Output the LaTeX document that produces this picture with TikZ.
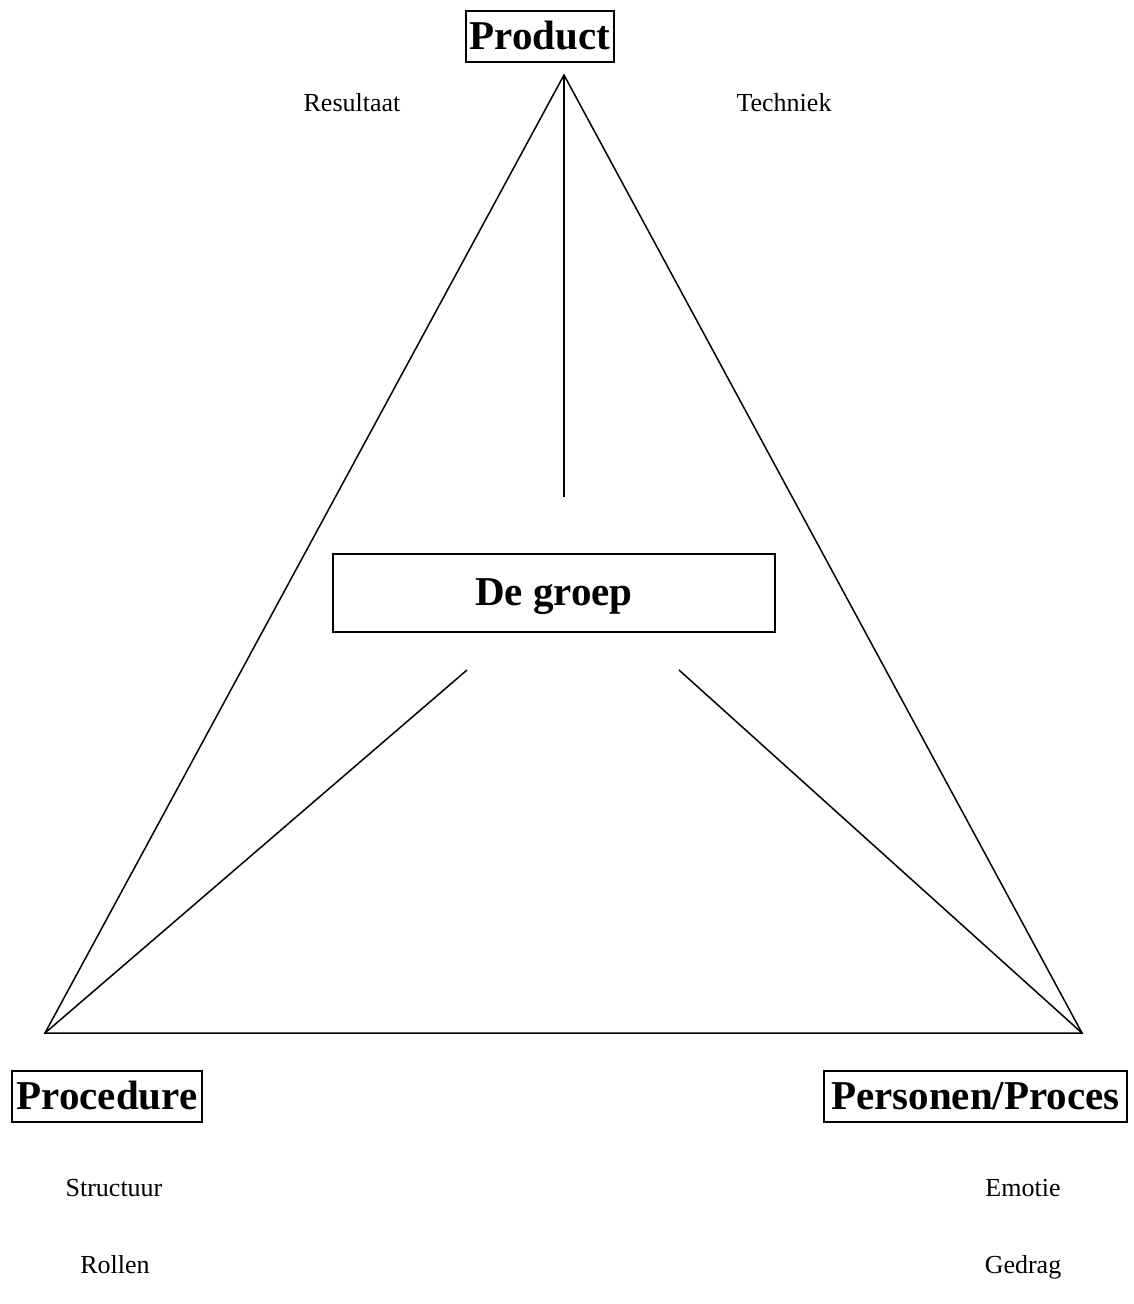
\documentclass[tikz,border=0pt]{standalone}
\usepackage{fontspec}
\setmainfont{Liberation Serif}
\tikzset{
  pole/.style={draw, line width=2pt, inner sep=0pt, minimum height=51pt,
    font=\fontsize{41}{48}\selectfont\bfseries},
  aspect/.style={inner sep=0pt, text depth=0pt, font=\fontsize{26}{30}\selectfont},
  edge/.style={line width=1.5pt}
}
\begin{document}
\begin{tikzpicture}[x=1pt,y=-1pt]
\useasboundingbox (0,0) rectangle (1134,1304);
% the three poles

  \node[pole, minimum width=148pt] (product) at (540,36) {Product};
  \node[pole, minimum width=190pt] (procedure) at (107,1096) {Procedure};
  \node[pole, minimum width=303pt] (personen) at (975.5,1096) {Personen/Proces};
  \node[pole, minimum width=442pt, minimum height=78pt, text height=27pt, text depth=3pt] (groep) at (554,593) {De groep};

  \node[aspect] (resultaat) at (352,102) {Resultaat};
  \node[aspect] (techniek) at (784,102) {Techniek};
  \node[aspect] (structuur) at (114,1188) {Structuur};
  \node[aspect] (rollen) at (115,1264) {Rollen};
  \node[aspect] (emotie) at (1023,1188) {Emotie};
  \node[aspect] (gedrag) at (1023,1264) {Gedrag};

% triangle

  \coordinate (top) at (564,75);
  \coordinate (left) at (45,1033);
  \coordinate (right) at (1082,1033);
  \draw[edge] (top) -- (left) -- (right) -- cycle;

% spokes towards the group

  \coordinate (topend) at (564,497);
  \coordinate (leftend) at (467,670);
  \coordinate (rightend) at (679,670);
  \draw[edge] (top) -- (topend);
  \draw[edge] (left) -- (leftend);
  \draw[edge] (right) -- (rightend);
\end{tikzpicture}
\end{document}
